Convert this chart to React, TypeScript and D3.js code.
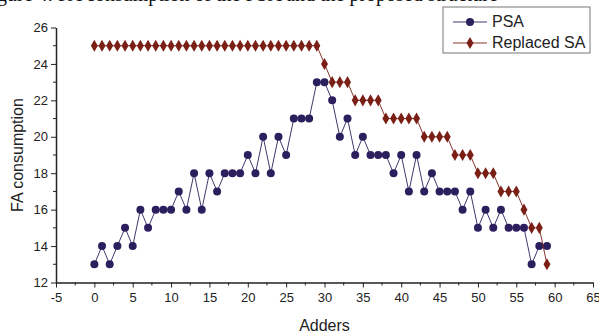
import { useEffect, useRef } from "react"
import * as d3 from "d3"

// Adders index 0..59
const adders = d3.range(0, 60)

const psaValues = [
  13, 14, 13, 14, 15, 14, 16, 15, 16, 16,
  16, 17, 16, 18, 16, 18, 17, 18, 18, 18,
  19, 18, 20, 18, 20, 19, 21, 21, 21, 23,
  23, 22, 20, 21, 19, 20, 19, 19, 19, 18,
  19, 17, 19, 17, 18, 17, 17, 17, 16, 17,
  15, 16, 15, 16, 15, 15, 15, 13, 14, 14,
]

const replacedSaValues = [
  25, 25, 25, 25, 25, 25, 25, 25, 25, 25,
  25, 25, 25, 25, 25, 25, 25, 25, 25, 25,
  25, 25, 25, 25, 25, 25, 25, 25, 25, 25,
  24, 23, 23, 23, 22, 22, 22, 22, 21, 21,
  21, 21, 21, 20, 20, 20, 20, 19, 19, 19,
  18, 18, 18, 17, 17, 17, 16, 15, 15, 13,
]

const xTicks = [-5, 0, 5, 10, 15, 20, 25, 30, 35, 40, 45, 50, 55, 60, 65]
const yTicks = [12, 14, 16, 18, 20, 22, 24, 26]

const PSA_COLOR = "#2c1f5e"
const SA_COLOR = "#7a1f16"

export default function App() {
  const svgRef = useRef<SVGSVGElement>(null)

  useEffect(() => {
    document.body.style.margin = "0"
    if (!svgRef.current) return
    const svg = d3.select(svgRef.current)
    svg.selectAll("*").remove()

    const font = "'Liberation Sans', Arial, sans-serif"

    const x = d3.scaleLinear().domain([-5, 65]).range([56, 593])
    const y = d3.scaleLinear().domain([12, 26]).range([282.5, 27.5])

    // clipped caption from the page above (only descenders show)
    svg.append("text")
      .attr("x", -3).attr("y", 1)
      .attr("font-family", "'Liberation Serif', 'Times New Roman', serif")
      .attr("font-size", 20)
      .attr("fill", "#111")
      .text("gure 4: FA consumption of the PSA and the proposed structure")

    const fmt = (d: d3.NumberValue) => String(d)

    // x axis
    const xAxis = svg.append("g").attr("transform", `translate(0,${y(12)})`)
    xAxis.call(d3.axisBottom(x).tickValues(xTicks).tickSize(5).tickSizeOuter(0).tickFormat(fmt))
    xAxis.selectAll("text").attr("font-family", font).attr("font-size", 13).attr("fill", "#222").attr("dy", "0.9em")
    xAxis.selectAll("line").attr("stroke", "#222")
    xAxis.select(".domain").attr("stroke", "#222").attr("stroke-width", 1.5)
    xAxis.append("g").selectAll("line")
      .data(d3.range(-2.5, 65, 5))
      .join("line")
      .attr("x1", d => x(d)).attr("x2", d => x(d))
      .attr("y1", 0).attr("y2", 3)
      .attr("stroke", "#222")

    // y axis
    const yAxis = svg.append("g").attr("transform", `translate(${x(-5)},0)`)
    yAxis.call(d3.axisLeft(y).tickValues(yTicks).tickSize(5).tickSizeOuter(0).tickFormat(fmt))
    yAxis.selectAll("text").attr("font-family", font).attr("font-size", 13).attr("fill", "#222")
    yAxis.selectAll("line").attr("stroke", "#222")
    yAxis.select(".domain").attr("stroke", "#222").attr("stroke-width", 1.5)
    yAxis.append("g").selectAll("line")
      .data(d3.range(13, 26, 2))
      .join("line")
      .attr("x1", 0).attr("x2", -3)
      .attr("y1", d => y(d)).attr("y2", d => y(d))
      .attr("stroke", "#222")

    // axis titles
    svg.append("text")
      .attr("x", x(30)).attr("y", 331)
      .attr("text-anchor", "middle")
      .attr("font-family", font).attr("font-size", 16).attr("fill", "#222")
      .text("Adders")
    svg.append("text")
      .attr("transform", `translate(23,${y(19)}) rotate(-90)`)
      .attr("text-anchor", "middle")
      .attr("font-family", font).attr("font-size", 16).attr("fill", "#222")
      .text("FA consumption")

    const diamond = d3.symbol().type(d3.symbolDiamond).size(42)

    const line = d3.line<{ a: number; v: number }>().x(d => x(d.a)).y(d => y(d.v))

    // PSA
    const psa = adders.map((a, i) => ({ a, v: psaValues[i] }))
    svg.append("path").datum(psa).attr("fill", "none").attr("stroke", PSA_COLOR).attr("stroke-width", 0.9).attr("d", line)
    svg.append("g").selectAll("circle").data(psa).join("circle")
      .attr("cx", d => x(d.a)).attr("cy", d => y(d.v)).attr("r", 4)
      .attr("fill", PSA_COLOR)

    // Replaced SA
    const sa = adders.map((a, i) => ({ a, v: replacedSaValues[i] }))
    svg.append("path").datum(sa).attr("fill", "none").attr("stroke", SA_COLOR).attr("stroke-width", 0.9).attr("d", line)
    svg.append("g").selectAll("path").data(sa).join("path")
      .attr("transform", d => `translate(${x(d.a)},${y(d.v)})`)
      .attr("d", diamond)
      .attr("fill", SA_COLOR)

    // legend
    const lg = svg.append("g").attr("transform", "translate(443,7)")
    lg.append("rect").attr("width", 147).attr("height", 46)
      .attr("fill", "#fff").attr("stroke", "#777").attr("stroke-width", 1)
    const items = [
      { name: "PSA", color: PSA_COLOR, shape: "circle" },
      { name: "Replaced SA", color: SA_COLOR, shape: "diamond" },
    ]
    items.forEach((it, i) => {
      const cy = 15 + i * 21
      lg.append("line").attr("x1", 10).attr("x2", 44).attr("y1", cy).attr("y2", cy)
        .attr("stroke", it.color).attr("stroke-width", 0.9)
      if (it.shape === "circle") {
        lg.append("circle").attr("cx", 27).attr("cy", cy).attr("r", 4).attr("fill", it.color)
      } else {
        lg.append("path").attr("transform", `translate(27,${cy})`).attr("d", diamond).attr("fill", it.color)
      }
      lg.append("text").attr("x", 49).attr("y", cy + 5)
        .attr("font-family", font).attr("font-size", 16).attr("fill", "#222")
        .text(it.name)
    })
  }, [])

  return (
    <svg ref={svgRef} width={599} height={336}
      style={{ position: "absolute", left: 0, top: 0, background: "#fff", display: "block" }} />
  )
}
